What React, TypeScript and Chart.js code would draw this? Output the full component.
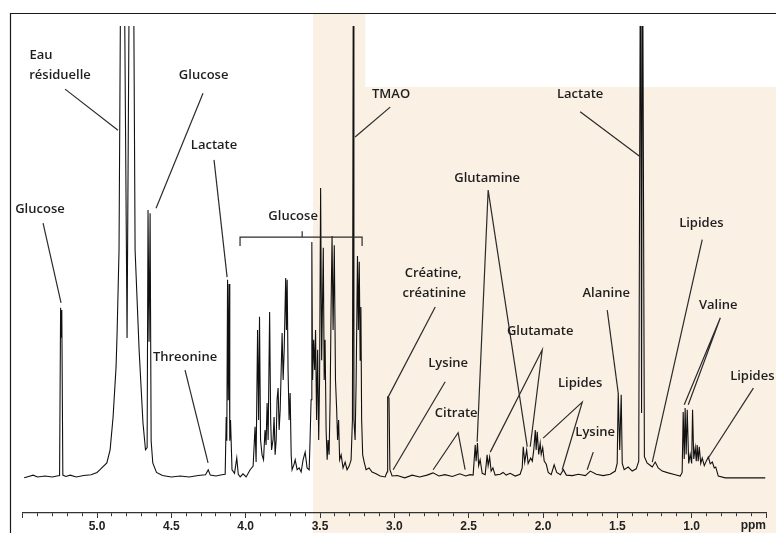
import React, { useEffect, useRef } from 'react';
import { Chart, registerables } from 'chart.js';

Chart.register(...registerables);

type Pt = [number, number];

// ---- Spectrum (chemical shift in ppm, relative intensity) ----
const regionGlucoseAnomeric: Pt[] = [
  [5.49, -0.2], [5.46, 0.1], [5.43, 0.4], [5.40, 0], [5.35, 0.2], [5.30, 0], [5.27, 0.2],
  [5.252, 0.3], [5.245, 37.5], [5.241, 31], [5.237, 37], [5.230, 0.4], [5.21, 0.1],
  [5.18, 0.4], [5.14, 0], [5.09, 0.3], [5.04, 0.5], [5.00, 1.0],
];
const regionWater: Pt[] = [
  [4.98, 1.6], [4.934, 3.1], [4.912, 6.0], [4.892, 13.3], [4.872, 24.4], [4.865, 31.9],
  [4.852, 50.3], [4.838, 130], [4.820, 130], [4.798, 30.8], [4.780, 130], [4.757, 130],
  [4.744, 50.3], [4.717, 28.2], [4.691, 12.0], [4.674, 6.0],
];
const regionGlucoseBeta: Pt[] = [
  [4.663, 6.5], [4.657, 59.2], [4.650, 30], [4.643, 58.5], [4.636, 8], [4.625, 3.1],
  [4.60, 1.0], [4.56, 0.3], [4.50, 0], [4.44, 0.2], [4.38, 0], [4.32, 0.3], [4.27, 0.5],
  [4.252, 1.6], [4.238, 0.4], [4.20, 0.2], [4.16, 0.5], [4.138, 0.6],
];
const regionLactateQuartet: Pt[] = [
  [4.131, 13.3], [4.127, 8], [4.122, 43.7], [4.117, 17], [4.112, 42.8], [4.107, 8],
  [4.102, 12.6], [4.092, 1.6], [4.075, 0.8], [4.060, 4.2], [4.050, 0.6], [4.037, 0],
];
const regionGlucoseRing: Pt[] = [
  [4.018, 0.7], [3.997, 0], [3.970, 1.6], [3.950, 2.4], [3.937, 11.1], [3.930, 3.3],
  [3.920, 32.6], [3.913, 12.6], [3.907, 35.5], [3.900, 8.2], [3.890, 4.9], [3.880, 3.8],
  [3.870, 10.4], [3.863, 7.1], [3.856, 16.4], [3.849, 8.2], [3.839, 36.6], [3.832, 12.6],
  [3.826, 6.0], [3.816, 8.2], [3.809, 13.3], [3.802, 4.9], [3.795, 8.2], [3.789, 17.1],
  [3.782, 19.7], [3.775, 10.4], [3.768, 14.9], [3.755, 31.9], [3.748, 21.5], [3.741, 28.2],
  [3.731, 44.1], [3.726, 32.6], [3.721, 43.7], [3.715, 23.7], [3.708, 12.6], [3.701, 18.6],
  [3.694, 4.9], [3.688, 1.6], [3.674, 2.9], [3.667, 3.8], [3.654, 1.6], [3.640, 2.0],
  [3.627, 1.1], [3.614, 3.8], [3.600, 5.5], [3.587, 2.0], [3.573, 1.6],
];
const regionGlucoseTMAO: Pt[] = [
  [3.567, 8.2], [3.560, 17.1], [3.555, 52.1], [3.550, 21.5], [3.543, 30.4], [3.536, 23.7],
  [3.530, 32.6], [3.523, 12.6], [3.516, 28.2], [3.509, 8.2], [3.503, 21.5], [3.496, 64.1],
  [3.489, 25.9], [3.483, 39.2], [3.478, 50.8], [3.472, 21.5], [3.466, 30.4], [3.459, 10.4],
  [3.452, 3.8], [3.446, 8.2], [3.439, 4.9], [3.432, 17.1], [3.425, 39.2], [3.419, 53.4],
  [3.412, 32.6], [3.404, 51.4], [3.396, 21.5], [3.388, 14.9], [3.382, 8.2], [3.375, 12.6],
  [3.368, 3.8], [3.358, 4.9], [3.345, 2.0], [3.331, 3.3], [3.318, 1.6], [3.304, 2.4],
  [3.291, 3.8], [3.282, 12.6], [3.277, 101], [3.272, 12.6], [3.264, 8.2], [3.257, 21.5],
  [3.248, 49.0], [3.242, 32.6], [3.236, 47.7], [3.230, 25.9], [3.225, 37.7], [3.220, 12.6],
  [3.213, 4.9], [3.203, 3.3], [3.190, 1.6], [3.170, 2.0], [3.150, 1.1], [3.123, 0.7],
  [3.096, 0.2],
];
const regionCreatine: Pt[] = [
  [3.062, 0], [3.049, 1.1], [3.045, 17.7], [3.036, 17.5], [3.030, 1.6], [3.015, 0.2],
  [2.98, 0.3], [2.93, -0.2], [2.88, 0.4], [2.83, 0], [2.78, 0.4], [2.74, 0.9], [2.70, 0.2],
  [2.66, 0.5], [2.61, 0.1], [2.56, 0.7], [2.52, 0.2], [2.49, 0.5],
];
const regionGlutamine: Pt[] = [
  [2.470, 0.4], [2.456, 7.1], [2.450, 3.5], [2.441, 7.5], [2.433, 2.5], [2.423, 3.8],
  [2.409, 0.8], [2.389, 0.5], [2.376, 4.9], [2.369, 2.5], [2.359, 4.4], [2.349, 1.3],
  [2.337, 2.0], [2.322, 0.4], [2.288, 0.6], [2.268, 1.0], [2.248, 0.4], [2.221, 0.8],
  [2.187, 0.2], [2.154, 0.6],
];
const regionGlutamate: Pt[] = [
  [2.140, 2.0], [2.133, 6.7], [2.123, 3.3], [2.110, 6.0], [2.100, 3.0], [2.083, 4.2],
  [2.072, 3.5], [2.062, 6.0], [2.052, 10.4], [2.046, 6.0], [2.039, 10.0], [2.029, 5.0],
  [2.019, 7.5], [2.012, 5.0], [2.002, 6.5], [1.992, 3.5], [1.978, 2.8], [1.965, 1.0],
  [1.945, 0.5], [1.925, 2.7], [1.908, 1.0], [1.883, 0.5], [1.863, 1.6], [1.843, 0.4],
  [1.802, 0.3], [1.762, 0.6], [1.715, 0.3], [1.682, 1.3], [1.642, 0.6], [1.595, 0.3],
  [1.548, 0.6], [1.514, 1.3],
];
const regionAlanineLactate: Pt[] = [
  [1.501, 3], [1.494, 18.6], [1.484, 6], [1.474, 18.2], [1.467, 3], [1.454, 1.6],
  [1.427, 2.2], [1.400, 1.3], [1.373, 1.8], [1.356, 3.5], [1.344, 130], [1.337, 14.2],
  [1.331, 130], [1.318, 4.5], [1.300, 3.1], [1.280, 2.6], [1.265, 2.2], [1.245, 3.3],
  [1.225, 2.0], [1.198, 1.3], [1.158, 0.9], [1.111, 0.5], [1.077, 0.2],
];
const regionValineLipids: Pt[] = [
  [1.064, 1.0], [1.057, 14.4], [1.050, 4], [1.044, 15.3], [1.037, 5], [1.030, 14.9],
  [1.020, 3], [1.010, 5], [1.000, 3], [0.994, 14.9], [0.986, 4], [0.976, 6.5],
  [0.969, 3.5], [0.963, 7.1], [0.956, 3.5], [0.949, 6.7], [0.939, 3.0], [0.929, 4.2],
  [0.915, 2.5], [0.902, 3.5], [0.888, 4.4], [0.875, 2.9], [0.861, 3.3], [0.848, 2.0],
  [0.838, 2.2], [0.821, 0.2], [0.774, -0.2], [0.505, -0.2],
];

// ---- Axis ----
const ppmMin = 0.5;
const ppmMax = 5.5;
const ppmStep = 0.1;
const labeledTicks = ['1.0', '1.5', '2.0', '2.5', '3.0', '3.5', '4.0', '4.5', '5.0'];
const axisUnit = 'ppm';
const axisUnitAt = 0.585;

// ---- Annotations (text + leader lines, in ppm / intensity) ----
const labelTexts = ['Eau', 'résiduelle', 'Glucose', 'Lactate', 'Glucose', 'Glucose', 'TMAO', 'Lactate',
  'Glutamine', 'Lipides', 'Créatine,', 'créatinine', 'Lysine', 'Citrate', 'Glutamate', 'Lipides',
  'Lysine', 'Alanine', 'Valine', 'Lipides', 'Threonine'];
const labelPpm = [5.377, 5.249, 4.283, 4.213, 5.384, 3.681, 3.022, 1.750, 2.376, 0.935, 2.739, 2.732,
  2.638, 2.584, 2.019, 1.750, 1.649, 1.575, 0.821, 0.592, 4.408];
const labelLevel = [93.6, 89.1, 89.1, 73.6, 59.4, 57.9, 84.9, 84.9, 66.3, 56.3, 45.2, 40.8, 25.3, 14.0,
  32.2, 20.8, 9.8, 40.8, 38.1, 22.4, 26.6];

const leaderLines: Pt[][] = [
  [[5.215, 86.0], [4.859, 76.9]],
  [[4.287, 85.1], [4.603, 59.6]],
  [[4.213, 70.3], [4.125, 44.3]],
  [[5.363, 56.3], [5.242, 38.6]],
  [[3.028, 82.0], [3.264, 75.4]],
  [[1.750, 81.0], [1.346, 71.0]],
  [[2.443, 7.8], [2.369, 63.6], [2.106, 6.7]],
  [[0.929, 52.6], [1.265, 3.3]],
  [[2.725, 37.7], [3.042, 17.7]],
  [[2.658, 21.1], [3.008, 1.6]],
  [[2.739, 1.6], [2.571, 9.8], [2.524, 1.6]],
  [[2.355, 5.5], [2.005, 28.2], [2.086, 6.7]],
  [[1.999, 8.6], [1.736, 16.6], [1.871, 1.6]],
  [[1.662, 5.5], [1.703, 1.6]],
  [[1.568, 37.0], [1.494, 18.6]],
  [[1.050, 16.0], [0.807, 35.3], [1.023, 16.0]],
  [[0.585, 19.7], [0.888, 4.2]],
  [[4.408, 23.7], [4.253, 3.1]],
  [[4.038, 51.2], [4.038, 53.2], [3.217, 53.2], [3.217, 51.2]],
  [[3.620, 53.2], [3.620, 54.5]],
];

// shaded zone (ppm / intensity of its corners)
const shadeFromPpm = 3.547;
const shadeStepPpm = 3.196;
const shadeStepLevel = 86.5;

const spectrum = [
  ...regionGlucoseAnomeric, ...regionWater, ...regionGlucoseBeta, ...regionLactateQuartet,
  ...regionGlucoseRing, ...regionGlucoseTMAO, ...regionCreatine, ...regionGlutamine,
  ...regionGlutamate, ...regionAlanineLactate, ...regionValineLipids,
].map(([x, y]) => ({ x, y }));

const LABEL_FONT = "600 13px 'Open Sans', 'DejaVu Sans', sans-serif";
const TICK_FONT_FAMILY = "'Liberation Sans', Arial, sans-serif";

const isHalf = (v: number) => Math.abs(v * 2 - Math.round(v * 2)) < 1e-6;
const isLabeled = (v: number) => isHalf(v) && labeledTicks.includes(v.toFixed(1));

const decorPlugin = {
  id: 'decor',
  beforeDraw(chart: any) {
    const { ctx, width, height, scales } = chart;
    const x = scales.x;
    const y = scales.y;
    ctx.save();
    ctx.fillStyle = '#ffffff';
    ctx.fillRect(0, 0, width, height);
    const x0 = x.getPixelForValue(shadeFromPpm);
    const xs = x.getPixelForValue(shadeStepPpm);
    const ys = y.getPixelForValue(shadeStepLevel);
    ctx.fillStyle = '#FAF0E4';
    ctx.beginPath();
    ctx.moveTo(x0, 14);
    ctx.lineTo(xs, 14);
    ctx.lineTo(xs, ys);
    ctx.lineTo(width, ys);
    ctx.lineTo(width, height);
    ctx.lineTo(x0, height);
    ctx.closePath();
    ctx.fill();
    // frame
    ctx.strokeStyle = '#1a1a1a';
    ctx.lineWidth = 1.2;
    ctx.beginPath();
    ctx.moveTo(10.5, height);
    ctx.lineTo(10.5, 13.5);
    ctx.lineTo(width, 13.5);
    ctx.stroke();
    ctx.restore();
  },
  afterDraw(chart: any) {
    const { ctx, scales } = chart;
    const x = scales.x;
    const y = scales.y;
    ctx.save();
    ctx.strokeStyle = '#2b2b2b';
    ctx.lineWidth = 1.2;
    leaderLines.forEach((line) => {
      ctx.beginPath();
      line.forEach(([p, v], i) => {
        const px = x.getPixelForValue(p);
        const py = y.getPixelForValue(v);
        if (i === 0) ctx.moveTo(px, py); else ctx.lineTo(px, py);
      });
      ctx.stroke();
    });
    ctx.fillStyle = '#1e1e1e';
    ctx.font = LABEL_FONT;
    ctx.textAlign = 'center';
    ctx.textBaseline = 'middle';
    labelTexts.forEach((t, i) => {
      ctx.fillText(t, x.getPixelForValue(labelPpm[i]), y.getPixelForValue(labelLevel[i]));
    });
    ctx.font = `bold 12px ${TICK_FONT_FAMILY}`;
    ctx.fillStyle = '#222';
    ctx.fillText(axisUnit, x.getPixelForValue(axisUnitAt), 526);
    ctx.restore();
  },
};

export default function App() {
  const ref = useRef<HTMLCanvasElement | null>(null);
  useEffect(() => {
    const canvas = ref.current;
    if (!canvas) return;
    const chart = new Chart(canvas, {
      type: 'scatter',
      data: {
        datasets: [
          {
            data: spectrum,
            showLine: true,
            borderColor: '#111111',
            borderWidth: 1.1,
            pointRadius: 0,
            tension: 0,
            fill: false,
          },
        ],
      },
      options: {
        responsive: false,
        animation: false,
        devicePixelRatio: 1,
        events: [],
        layout: { padding: { left: 22.7, right: 10, top: 26, bottom: 9 } },
        plugins: { legend: { display: false }, tooltip: { enabled: false } },
        scales: {
          x: {
            type: 'linear',
            reverse: true,
            min: ppmMin,
            max: ppmMax,
            position: 'bottom',
            border: { display: true, color: '#333', width: 1.2 },
            grid: {
              display: true,
              drawOnChartArea: false,
              drawTicks: true,
              tickLength: 5,
              tickColor: '#333',
              tickWidth: 1,
              tickBorderDash: (c: any) => (c.tick && isHalf(c.tick.value) ? [] : [3, 20]),
            } as any,
            ticks: {
              stepSize: ppmStep,
              maxTicksLimit: 100,
              autoSkip: false,
              maxRotation: 0,
              minRotation: 0,
              padding: 1.8,
              color: '#222',
              font: { family: TICK_FONT_FAMILY, size: 12, weight: 'bold' },
              callback: (v: any) => (isLabeled(Number(v)) ? Number(v).toFixed(1) : ''),
            },
          },
          y: { display: false, min: -8, max: 100 },
        },
      },
      plugins: [decorPlugin],
    } as any);
    return () => chart.destroy();
  }, []);
  return (
    <div style={{ position: 'fixed', left: 0, top: 0, width: 776, height: 533, overflow: 'hidden', background: '#fff' }}>
      <canvas ref={ref} width={776} height={545} style={{ display: 'block', width: 776, height: 545 }} />
    </div>
  );
}
